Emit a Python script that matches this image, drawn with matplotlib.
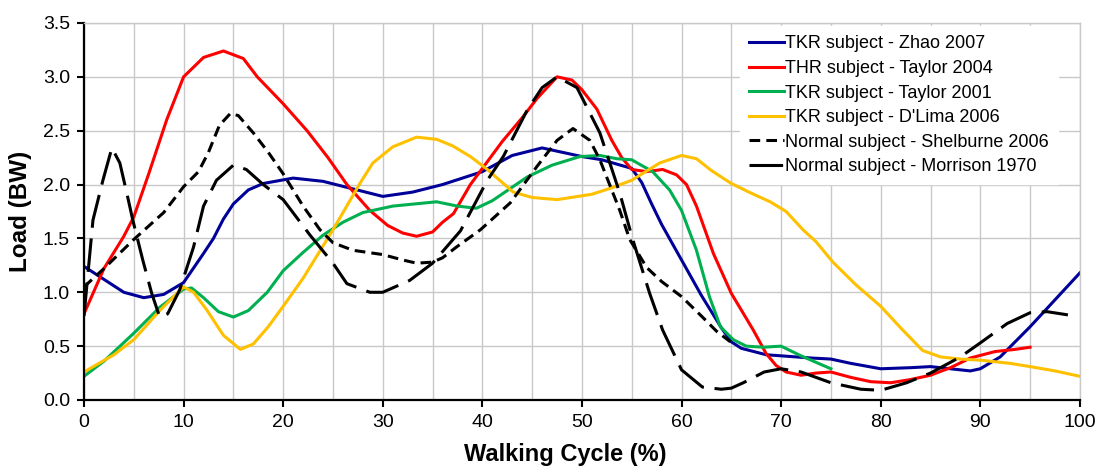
# Carga en la rodilla/cadera a lo largo del ciclo de marcha.

import matplotlib
matplotlib.use('Agg')
import matplotlib.pyplot as plt
from matplotlib.ticker import MultipleLocator

plt.rcParams['font.family'] = ['Liberation Sans', 'DejaVu Sans']

# Datos.
zhao_x = [0, 2, 4, 6, 8, 10, 12, 13, 14, 15, 16.5, 18, 21, 24, 27, 30, 33, 36, 40, 43, 46,
          48, 50, 52, 55, 56, 57, 58, 60, 62, 64, 65, 66, 68.5, 70, 73, 75, 77, 80, 83, 85,
          87, 89, 90, 92, 95, 97, 100]
zhao_y = [1.24, 1.12, 1.0, 0.95, 0.98, 1.09, 1.36, 1.5, 1.68, 1.82, 1.95, 2.01, 2.06, 2.03,
          1.96, 1.89, 1.93, 2.0, 2.12, 2.27, 2.34, 2.3, 2.26, 2.23, 2.15, 2.02, 1.82, 1.63,
          1.3, 0.97, 0.67, 0.54, 0.48, 0.42, 0.41, 0.39, 0.38, 0.34, 0.29, 0.3, 0.31, 0.29,
          0.27, 0.29, 0.4, 0.68, 0.88, 1.18]

taylor04_x = [0, 2, 4, 5, 6.5, 8.3, 10, 12, 14, 16, 17.4, 20, 22.4, 24.5, 26.4, 28.7, 30.5,
              32, 33.4, 35, 36, 37.1, 38.8, 40, 42, 44, 45.5, 47.5, 49, 50, 51.5, 53, 54,
              55, 56.5, 58.1, 59.5, 60.5, 61.5, 63.2, 65, 67.2, 68.5, 69.5, 70.5, 72, 73.5,
              75, 77, 79, 81, 83, 85, 87, 89, 91.5, 93.5, 95]
taylor04_y = [0.8, 1.22, 1.52, 1.7, 2.1, 2.6, 3.0, 3.18, 3.24, 3.17, 3.0, 2.75, 2.5, 2.25,
              2.0, 1.76, 1.62, 1.55, 1.52, 1.56, 1.65, 1.73, 2.0, 2.15, 2.4, 2.62, 2.8, 3.0,
              2.97, 2.88, 2.7, 2.41, 2.25, 2.14, 2.12, 2.14, 2.09, 2.0, 1.8, 1.36, 0.99,
              0.65, 0.43, 0.32, 0.26, 0.23, 0.25, 0.26, 0.21, 0.17, 0.16, 0.19, 0.23, 0.3,
              0.39, 0.45, 0.47, 0.49]

taylor01_x = [0, 2, 5, 7.6, 10, 10.8, 12, 13.5, 15, 16.5, 18.4, 20, 22, 24, 26, 28, 31,
              35.4, 37.5, 39.4, 41, 44.5, 47, 49.8, 51.8, 53.5, 55, 57.1, 58.8, 60, 61.5,
              62.8, 63.9, 65.2, 66.5, 68.2, 70, 72, 75]
taylor01_y = [0.22, 0.36, 0.62, 0.86, 1.03, 1.04, 0.95, 0.82, 0.77, 0.83, 1.0, 1.2, 1.37,
              1.53, 1.65, 1.74, 1.8, 1.84, 1.8, 1.78, 1.85, 2.07, 2.18, 2.26, 2.27, 2.24,
              2.23, 2.12, 1.95, 1.76, 1.39, 0.96, 0.68, 0.56, 0.5, 0.49, 0.5, 0.41, 0.29]

dlima_x = [0, 3, 5, 7.6, 10, 11, 12.3, 14, 15.7, 17, 18.5, 20, 22, 25, 27.7, 29, 31, 33.4,
           35.4, 37, 38.8, 40.5, 43.1, 45, 47.5, 51, 53, 55, 57.8, 60, 61.5, 63, 65, 67,
           68.9, 70.5, 72.2, 73.5, 75.2, 77.5, 80, 82, 84.2, 86, 88, 90, 93, 95, 97.5, 100]
dlima_y = [0.26, 0.42, 0.56, 0.83, 1.05, 1.0, 0.84, 0.6, 0.47, 0.52, 0.68, 0.87, 1.13,
           1.58, 2.01, 2.2, 2.35, 2.44, 2.42, 2.36, 2.26, 2.14, 1.93, 1.88, 1.86, 1.91,
           1.97, 2.04, 2.2, 2.27, 2.24, 2.13, 2.01, 1.92, 1.84, 1.75, 1.58, 1.47, 1.28,
           1.07, 0.87, 0.67, 0.46, 0.4, 0.38, 0.37, 0.34, 0.31, 0.27, 0.22]

shelburne_x = [0, 2, 5, 8, 10, 11.5, 12.5, 13.6, 14.7, 15.5, 17, 18.5, 20, 22, 23.7, 25,
               27, 30, 32, 33.4, 35, 36, 37.4, 39.8, 42.8, 45.5, 47.5, 49.1, 50.8, 51.8,
               53.8, 54.8, 56.5, 58, 60, 62.1, 63.5, 64.9]
shelburne_y = [1.05, 1.22, 1.49, 1.74, 1.98, 2.12, 2.3, 2.55, 2.66, 2.64, 2.48, 2.3, 2.1,
               1.8, 1.58, 1.46, 1.39, 1.35, 1.3, 1.27, 1.28, 1.32, 1.42, 1.58, 1.83, 2.17,
               2.41, 2.52, 2.41, 2.23, 1.76, 1.49, 1.23, 1.1, 0.96, 0.77, 0.64, 0.54]

morrison_x = [0, 0.9, 1.9, 2.8, 3.6, 4.3, 4.9, 5.9, 6.8, 7.6, 8.4, 9.6, 11, 12, 13.3, 15,
              16.3, 18, 20, 22.7, 25, 26.4, 28.7, 30, 32.7, 35, 37.8, 40.5, 42.1, 44.5, 46,
              47.5, 49.5, 51.8, 53.8, 55.1, 56.8, 58.1, 60, 62.1, 64, 65, 66.2, 68.3, 70,
              72, 75, 78, 80, 82.6, 85, 88, 90, 92.7, 95, 96.7, 98.8]
morrison_y = [0.78, 1.67, 2.04, 2.34, 2.2, 1.92, 1.67, 1.3, 0.99, 0.77, 0.8, 1.02, 1.42,
              1.8, 2.04, 2.18, 2.14, 2.0, 1.86, 1.53, 1.27, 1.08, 1.0, 1.0, 1.11, 1.27,
              1.57, 2.04, 2.26, 2.69, 2.9, 3.0, 2.9, 2.48, 1.92, 1.49, 0.99, 0.65, 0.28,
              0.12, 0.1, 0.11, 0.16, 0.26, 0.29, 0.26, 0.16, 0.1, 0.09, 0.16, 0.25, 0.4,
              0.53, 0.71, 0.81, 0.82, 0.79]

fig = plt.figure(figsize=(10.98, 4.68), dpi=100)
ax = fig.add_axes([0.0765, 0.1453, 0.907, 0.8056])

lw = 2.2
ax.plot(zhao_x, zhao_y, color='#000099', lw=lw, label='TKR subject - Zhao 2007')
ax.plot(taylor04_x, taylor04_y, color='#FF0000', lw=lw, label='THR subject - Taylor 2004')
ax.plot(taylor01_x, taylor01_y, color='#00B050', lw=lw, label='TKR subject - Taylor 2001')
ax.plot(dlima_x, dlima_y, color='#FFC000', lw=lw, label="TKR subject - D'Lima 2006")
ax.plot(shelburne_x, shelburne_y, color='black', lw=lw, dashes=(3.5, 2),
        label='Normal subject - Shelburne 2006')
ax.plot(morrison_x, morrison_y, color='black', lw=lw, dashes=(11, 3.5),
        label='Normal subject - Morrison 1970')

ax.set_xlim(0, 100)
ax.set_ylim(0, 3.5)
ax.xaxis.set_major_locator(MultipleLocator(10))
ax.xaxis.set_minor_locator(MultipleLocator(5))
ax.yaxis.set_major_locator(MultipleLocator(0.5))
ax.yaxis.set_major_formatter(matplotlib.ticker.FormatStrFormatter('%.1f'))
ax.grid(True, which='both', color='#c8c8c8', lw=1.0)
ax.set_axisbelow(True)
ax.tick_params(axis='both', which='major', direction='out', length=5, width=1.5,
               labelsize=14, pad=5)
ax.tick_params(axis='x', which='minor', length=0)

for s in ['left', 'bottom']:
    ax.spines[s].set_linewidth(1.6)
for s in ['top', 'right']:
    ax.spines[s].set_color('#c8c8c8')
    ax.spines[s].set_linewidth(1.0)

ax.set_xlabel('Walking Cycle (%)', fontsize=17, fontweight='bold', labelpad=6)
ax.xaxis.set_label_coords(0.483, -0.115, transform=ax.transAxes)
ax.xaxis.label.set_va('top')
ax.set_ylabel('Load (BW)', fontsize=17.5, fontweight='bold', labelpad=8)

leg = ax.legend(loc='upper left', bbox_to_anchor=(0.659, 0.991), fontsize=13,
                handlelength=1.9, handletextpad=0.1, labelspacing=0.42,
                borderpad=0.5, borderaxespad=0, frameon=True, fancybox=False)
leg.get_frame().set_facecolor('white')
leg.get_frame().set_edgecolor('white')
leg.get_frame().set_alpha(1)

fig.savefig('out.png', dpi=100)
